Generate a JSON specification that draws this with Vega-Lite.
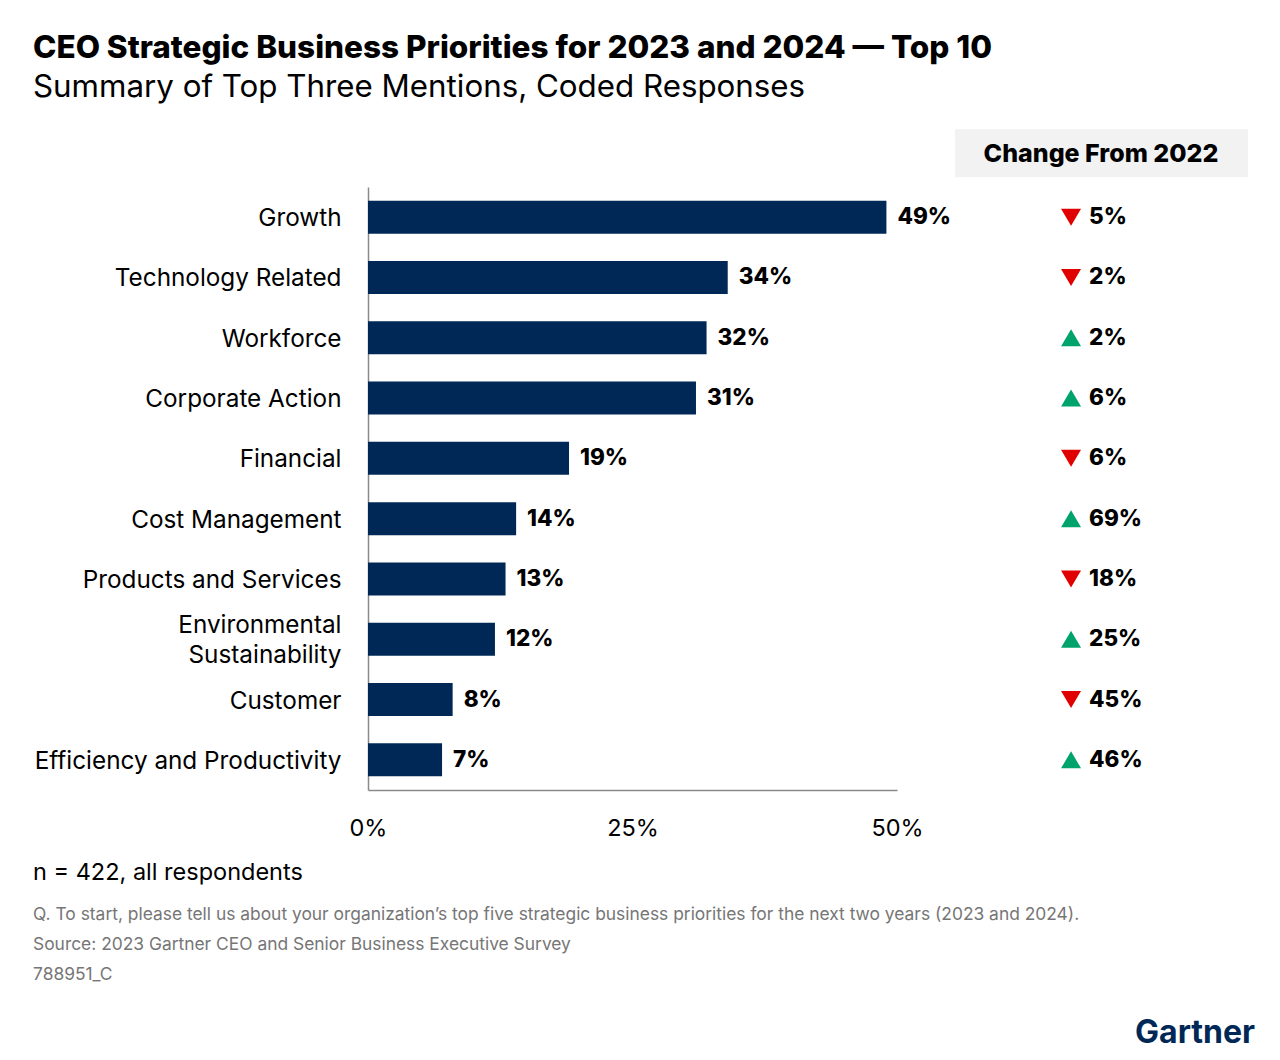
{
  "$schema": "https://vega.github.io/schema/vega-lite/v6.json",
  "autosize": {"type": "none"},
  "width": 912,
  "height": 603,
  "padding": {"left": 368, "top": 187, "right": 0, "bottom": 270},
  "background": "white",
  "config": {"view": {"stroke": null}, "font": "Inter"},
  "title": {
    "text": "CEO Strategic Business Priorities for 2023 and 2024 — Top 10",
    "subtitle": "Summary of Top Three Mentions, Coded Responses",
    "anchor": "start",
    "frame": "group",
    "dx": -335,
    "offset": 26,
    "font": "Inter",
    "fontSize": 31.5,
    "fontWeight": 800,
    "color": "#000000",
    "subtitleFont": "Inter",
    "subtitleFontSize": 31.3,
    "subtitleFontWeight": 400,
    "subtitleColor": "#000000",
    "subtitlePadding": 7
  },
  "data": {
    "values": [
      {"priority": "Growth", "share": 0.49, "change": 0.05, "dir": "down"},
      {"priority": "Technology Related", "share": 0.34, "change": 0.02, "dir": "down"},
      {"priority": "Workforce", "share": 0.32, "change": 0.02, "dir": "up"},
      {"priority": "Corporate Action", "share": 0.31, "change": 0.06, "dir": "up"},
      {"priority": "Financial", "share": 0.19, "change": 0.06, "dir": "down"},
      {"priority": "Cost Management", "share": 0.14, "change": 0.69, "dir": "up"},
      {"priority": "Products and Services", "share": 0.13, "change": 0.18, "dir": "down"},
      {"priority": "Environmental Sustainability", "share": 0.12, "change": 0.25, "dir": "up"},
      {"priority": "Customer", "share": 0.08, "change": 0.45, "dir": "down"},
      {"priority": "Efficiency and Productivity", "share": 0.07, "change": 0.46, "dir": "up"}
    ]
  },
  "encoding": {
    "y": {
      "field": "priority",
      "type": "nominal",
      "sort": null,
      "scale": {"paddingInner": 0.453, "paddingOuter": 0.2265},
      "axis": {
        "title": null,
        "ticks": false,
        "domain": true,
        "domainColor": "#8a8a8a",
        "domainWidth": 1.5,
        "labelFont": "Inter",
        "labelFontSize": 24.3,
        "labelColor": "#000000",
        "labelPadding": 27,
        "labelLineHeight": 30,
        "labelLimit": 400,
        "labelOffset": {"condition": {"test": "datum.value == 'Environmental Sustainability'", "value": -13}, "value": 2},
        "labelExpr": "datum.label == 'Environmental Sustainability' ? ['Environmental', 'Sustainability'] : datum.label"
      }
    }
  },
  "layer": [
    {
      "mark": {"type": "bar", "color": "#002856"},
      "encoding": {
        "x": {
          "field": "share",
          "type": "quantitative",
          "scale": {"domain": [0, 0.5], "range": [0, 529], "nice": false},
          "axis": {
            "title": null,
            "values": [0, 0.25, 0.5],
            "format": ".0%",
            "grid": false,
            "ticks": false,
            "domain": true,
            "domainColor": "#8a8a8a",
            "domainWidth": 1.5,
            "labelFont": "Inter",
            "labelFontSize": 23.5,
            "labelColor": "#000000",
            "labelPadding": 26,
            "labelFlush": false
          }
        }
      }
    },
    {
      "mark": {"type": "text", "align": "left", "baseline": "middle", "dx": 11, "font": "Inter", "fontSize": 22.5, "fontWeight": 800, "color": "#000000"},
      "encoding": {
        "x": {"field": "share", "type": "quantitative"},
        "text": {"field": "share", "type": "quantitative", "format": ".0%"}
      }
    },
    {
      "mark": {"type": "point", "filled": true, "opacity": 1, "size": 400, "strokeWidth": 0},
      "encoding": {
        "x": {"datum": 0.6645},
        "shape": {"field": "dir", "type": "nominal", "legend": null, "scale": {"domain": ["down", "up"], "range": ["M-1,-0.85L1,-0.85L0,0.85Z", "M-1,0.85L1,0.85L0,-0.85Z"]}},
        "color": {"field": "dir", "type": "nominal", "legend": null, "scale": {"domain": ["down", "up"], "range": ["#e00000", "#00a36c"]}}
      }
    },
    {
      "mark": {"type": "text", "align": "left", "baseline": "middle", "font": "Inter", "fontSize": 22.5, "fontWeight": 800, "color": "#000000"},
      "encoding": {
        "x": {"datum": 0.6815},
        "text": {"field": "change", "type": "quantitative", "format": ".0%"}
      }
    },
    {
      "data": {"values": [{"priority": "Growth", "header": "Change From 2022"}]},
      "layer": [
        {
          "mark": {"type": "bar", "color": "#f2f2f2", "height": 48, "yOffset": -64},
          "encoding": {
            "x": {"datum": 0.5548},
            "x2": {"datum": 0.8318}
          }
        },
        {
          "mark": {"type": "text", "align": "center", "baseline": "middle", "yOffset": -63, "font": "Inter", "fontSize": 25, "fontWeight": 800, "color": "#000000"},
          "encoding": {
            "x": {"datum": 0.6928},
            "text": {"field": "header"}
          }
        }
      ]
    },
    {
      "data": {"values": [{"priority": "Efficiency and Productivity", "note": "n = 422, all respondents"}]},
      "mark": {"type": "text", "align": "left", "baseline": "alphabetic", "yOffset": 120, "font": "Inter", "fontSize": 23.5, "color": "#000000"},
      "encoding": {
        "x": {"datum": -0.3166},
        "text": {"field": "note"}
      }
    },
    {
      "data": {"values": [{"priority": "Efficiency and Productivity", "note": ["Q. To start, please tell us about your organization’s top five strategic business priorities for the next two years (2023 and 2024).", "Source: 2023 Gartner CEO and Senior Business Executive Survey", "788951_C"]}]},
      "mark": {"type": "text", "align": "left", "baseline": "alphabetic", "yOffset": 160, "lineHeight": 30, "font": "Inter", "fontSize": 17.4, "color": "#767676"},
      "encoding": {
        "x": {"datum": -0.3166},
        "text": {"field": "note"}
      }
    },
    {
      "data": {"values": [{"priority": "Efficiency and Productivity", "logo": "Gartner"}]},
      "mark": {"type": "text", "align": "right", "baseline": "alphabetic", "yOffset": 283, "font": "Inter", "fontSize": 32, "fontWeight": 700, "color": "#002856", "letterSpacing": -0.5},
      "encoding": {
        "x": {"datum": 0.8384},
        "text": {"field": "logo"}
      }
    }
  ]
}
